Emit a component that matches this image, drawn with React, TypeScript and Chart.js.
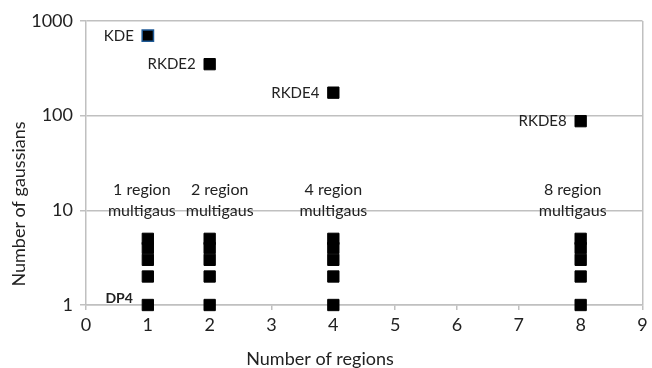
import React, { useEffect, useRef } from "react";
import { Chart, registerables } from "chart.js";

Chart.register(...registerables);

// ---- data ----
const kdeX = [1];
const kdeY = [700];
const kdeLabels = ["KDE"];

const rkdeX = [2, 4, 8];
const rkdeY = [350, 175, 87.5];
const rkdeLabels = ["RKDE2", "RKDE4", "RKDE8"];

const regionCounts = [1, 2, 4, 8];
const gaussianCounts = [1, 2, 3, 4, 5];
const regionLabelLine1 = ["1 region", "2 region", "4 region", "8 region"];
const regionLabelLine2 = ["multigaus", "multigaus", "multigaus", "multigaus"];
const regionLabelY = 10;

const dpLabel = "DP4";
const dpX = 1;
const dpY = 1;

const xTicks = [0, 1, 2, 3, 4, 5, 6, 7, 8, 9];
const yTicks = [1, 10, 100, 1000];

const xTitle = "Number of regions";
const yTitle = "Number of gaussians";

const FONT = "Lato, 'Open Sans', sans-serif";
const GRID = "#c0c0c0";
// small pixel nudges so neighbouring region captions do not collide
const regionNudge = [-6, 10, 0, -8];

const multiPoints = regionCounts.flatMap((r) => gaussianCounts.map((g) => ({ x: r, y: g })));

const labelPlugin = {
  id: "labelPlugin",
  afterDraw(chart: any) {
    const ctx = chart.ctx;
    const xs = chart.scales.x;
    const ys = chart.scales.y;
    ctx.save();
    ctx.fillStyle = "#222";
    ctx.textBaseline = "middle";
    ctx.font = `15px ${FONT}`;
    ctx.textAlign = "right";
    kdeX.forEach((x, i) => {
      ctx.fillText(kdeLabels[i], xs.getPixelForValue(x) - 14, ys.getPixelForValue(kdeY[i]));
    });
    rkdeX.forEach((x, i) => {
      ctx.fillText(rkdeLabels[i], xs.getPixelForValue(x) - 14, ys.getPixelForValue(rkdeY[i]));
    });
    ctx.font = `16px ${FONT}`;
    ctx.textAlign = "center";
    regionCounts.forEach((r, i) => {
      const px = xs.getPixelForValue(r) + regionNudge[i];
      const py = ys.getPixelForValue(regionLabelY);
      ctx.fillText(regionLabelLine1[i], px, py - 20);
      ctx.fillText(regionLabelLine2[i], px, py + 1);
    });
    ctx.font = `bold 14px ${FONT}`;
    ctx.textAlign = "right";
    ctx.fillText(dpLabel, xs.getPixelForValue(dpX) - 15, ys.getPixelForValue(dpY) - 7);

    // axis titles
    ctx.font = `18px ${FONT}`;
    ctx.textAlign = "center";
    ctx.fillText(xTitle, chart.width / 2 - 6, 359);
    ctx.translate(19, 204);
    ctx.rotate(-Math.PI / 2);
    ctx.fillText(yTitle, 0, 0);
    ctx.restore();
  },
};

export default function App() {
  const ref = useRef<HTMLCanvasElement>(null);
  useEffect(() => {
    if (!ref.current) return;
    const chart = new Chart(ref.current, {
      type: "scatter",
      data: {
        datasets: [
          {
            label: "KDE",
            data: kdeX.map((x, i) => ({ x, y: kdeY[i] })),
            pointStyle: "rect",
            pointRadius: 8,
            backgroundColor: "#000",
            borderColor: "#1F5A96",
            borderWidth: 1.5,
            clip: false,
          },
          {
            label: "RKDE",
            data: rkdeX.map((x, i) => ({ x, y: rkdeY[i] })),
            pointStyle: "rect",
            pointRadius: 8,
            backgroundColor: "#000",
            borderColor: "#000",
            borderWidth: 1,
            clip: false,
          },
          {
            label: "multigaus",
            data: multiPoints,
            pointStyle: "rect",
            pointRadius: 8,
            backgroundColor: "#000",
            borderColor: "#000",
            borderWidth: 1,
            clip: false,
          },
        ],
      },
      options: {
        animation: false,
        responsive: false,
        maintainAspectRatio: false,
        layout: { padding: { left: 0, right: 5, top: 21, bottom: 0 } },
        plugins: { legend: { display: false }, tooltip: { enabled: false } },
        scales: {
          x: {
            type: "linear",
            min: 0,
            max: 9,
            afterBuildTicks: (s: any) => {
              s.ticks = xTicks.map((v) => ({ value: v }));
            },
            afterFit: (s: any) => {
              s.height = 63;
            },
            border: { display: true, color: GRID, width: 1.5 },
            grid: {
              color: (c: any) => (c.tick && c.tick.value === 9 ? GRID : "rgba(0,0,0,0)"),
              tickColor: GRID,
              tickLength: 5,
              lineWidth: 1.5,
            },
            ticks: {
              color: "#222",
              font: { family: FONT, size: 18 },
              padding: 4,
              maxRotation: 0,
            },
          },
          y: {
            type: "logarithmic",
            min: 1,
            max: 1000,
            afterBuildTicks: (s: any) => {
              s.ticks = yTicks.map((v) => ({ value: v }));
            },
            afterFit: (s: any) => {
              s.width = 86;
            },
            border: { display: true, color: GRID, width: 1.5 },
            grid: {
              color: GRID,
              tickColor: GRID,
              tickLength: 6,
              lineWidth: 1.5,
            },
            ticks: {
              color: "#222",
              font: { family: FONT, size: 18 },
              padding: 7,
              callback: (v: any) => String(v),
            },
          },
        },
      },
      plugins: [labelPlugin],
    });
    return () => chart.destroy();
  }, []);
  return (
    <div style={{ position: "fixed", left: 0, top: 0, width: 652, height: 368, background: "#fff" }}>
      <canvas ref={ref} width={652} height={368} style={{ width: 652, height: 368 }} />
    </div>
  );
}
